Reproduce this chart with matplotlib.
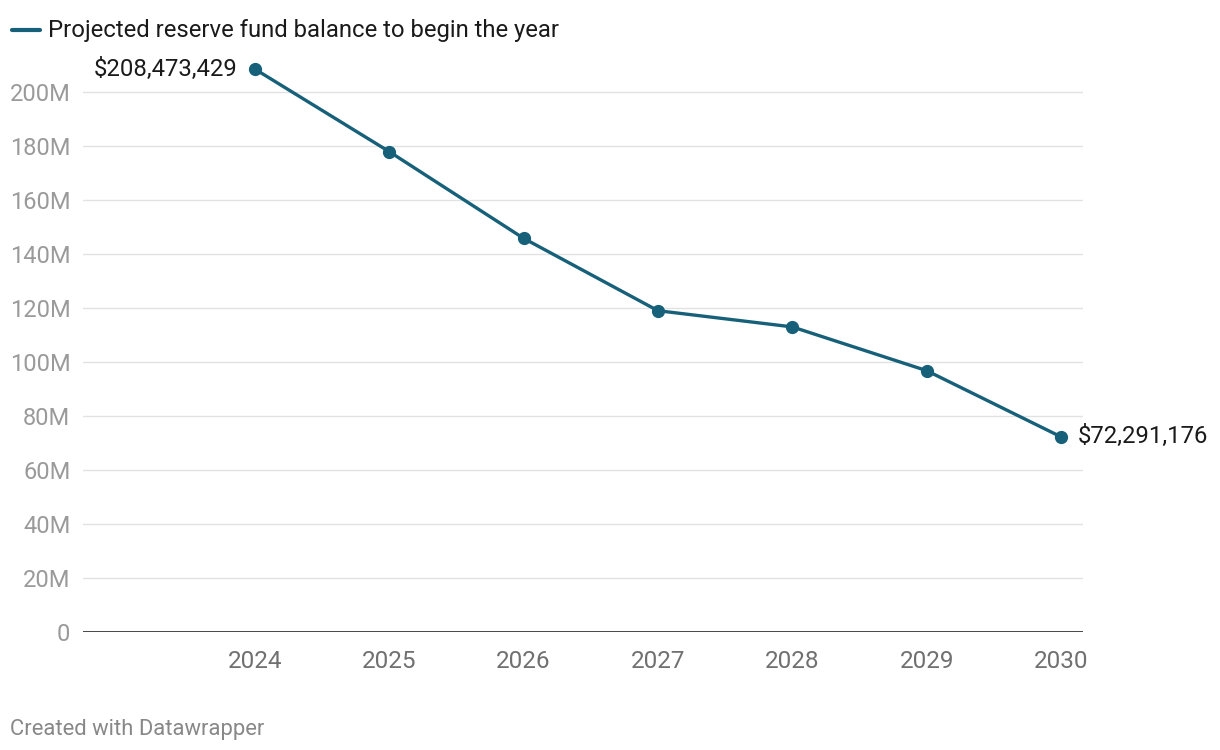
import matplotlib
matplotlib.use('Agg')
import matplotlib.pyplot as plt
from matplotlib.lines import Line2D

plt.rcParams['font.family'] = ['Roboto', 'DejaVu Sans']

years = [2024, 2025, 2026, 2027, 2028, 2029, 2030]
balance = [208.473429, 177.9, 145.8, 119.0, 113.0, 96.8, 72.291176]  # millions
first_label = '\\$208,473,429'
last_label = '\\$72,291,176'
yticks = [0, 20, 40, 60, 80, 100, 120, 140, 160, 180, 200]
ytick_labels = ['0'] + [f'{v}M' for v in yticks[1:]]

col = '#17607a'

fig = plt.figure(figsize=(12.2, 7.5), dpi=100)
ax = fig.add_axes([83/1220, 118/750, 1000/1220, 572/750])

for v in yticks[1:]:
    ax.axhline(v, color='#e2e2e2', linewidth=1, zorder=0)
ax.axhline(0, color='#111111', linewidth=1.8, zorder=1)

ax.plot(years, balance, color=col, linewidth=2.4, marker='o', markersize=8.5, zorder=3)

ax.annotate(first_label, (years[0], balance[0]), xytext=(-17, 0), textcoords='offset pixels',
            ha='right', va='center', fontsize=17.2, color='#1a1a1a')
ax.annotate(last_label, (years[-1], balance[-1]), xytext=(17, 0), textcoords='offset pixels',
            ha='left', va='center', fontsize=17.2, color='#1a1a1a')

ax.set_xlim(2022.72, 2030.164)
ax.set_ylim(0, (632 - 60) / 2.7)
ax.set_xticks(years)
ax.set_xticklabels([str(y) for y in years])
ax.set_yticks(yticks)
ax.set_yticklabels(ytick_labels)
ax.tick_params(axis='x', length=0, pad=13, labelsize=17.5, labelcolor='#707070')
ax.tick_params(axis='y', length=0, pad=9, labelsize=17, labelcolor='#9a9a9a')
for s in ax.spines.values():
    s.set_visible(False)

fig.add_artist(Line2D([12/1220, 40/1220], [720/750, 720/750], color=col, linewidth=3,
                      solid_capstyle='round', transform=fig.transFigure))
fig.text(48/1220, 719/750, 'Projected reserve fund balance to begin the year',
         ha='left', va='center', fontsize=17.2, color='#1a1a1a')
fig.text(10/1220, 21/750, 'Created with Datawrapper', ha='left', va='center',
         fontsize=15.8, color='#888888')

plt.savefig('out.png', dpi=100)
